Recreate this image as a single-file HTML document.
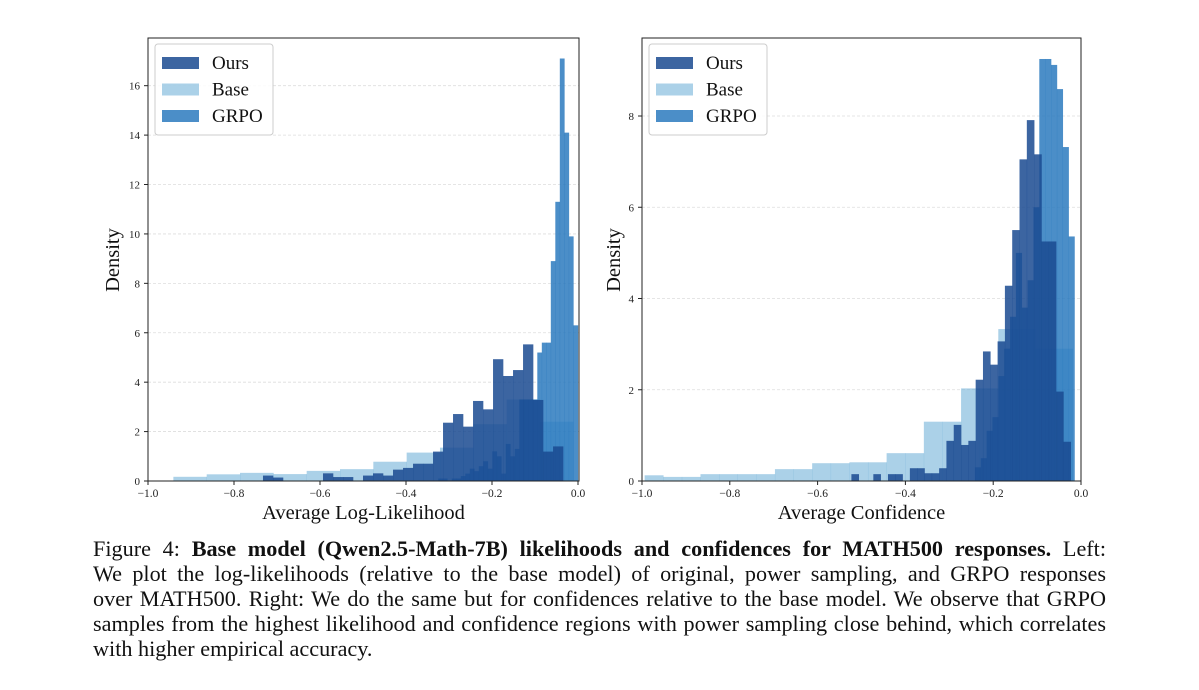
<!DOCTYPE html>
<html><head><meta charset="utf-8">
<style>
body{margin:0;background:#fff;width:1199px;height:690px;overflow:hidden;position:relative;font-family:"Liberation Serif",serif;}
#cap{position:absolute;left:93px;top:536px;width:1013px;font-size:22.2px;line-height:25px;color:#111;}
#cap div{text-align:justify;text-align-last:justify;white-space:nowrap;height:25px}
#cap div.last{text-align-last:left}
svg text{font-family:"Liberation Serif",serif}
</style></head><body>
<svg id="chart" width="1199" height="540" style="position:absolute;left:0;top:0"></svg>
<div id="cap">
<div>Figure 4: <b>Base model (Qwen2.5-Math-7B) likelihoods and confidences for MATH500 responses.</b> Left:</div>
<div>We plot the log-likelihoods (relative to the base model) of original, power sampling, and GRPO responses</div>
<div>over MATH500. Right: We do the same but for confidences relative to the base model. We observe that GRPO</div>
<div>samples from the highest likelihood and confidence regions with power sampling close behind, which correlates</div>
<div class="last">with higher empirical accuracy.</div>
</div>
<script>
// Left panel data (Average Log-Likelihood)
const leftBaseStart = -0.941, leftBaseWidth = 0.0775;
const leftBase = [0.17,0.27,0.33,0.28,0.41,0.48,0.78,1.15,1.35,2.3,3.3,2.4];
const leftOursStart = -0.7326, leftOursWidth = 0.02326;
const leftOurs = [0.22,0.14,0,0,0,0,0.31,0.16,0.16,0,0.22,0.31,0.22,0.46,0.53,0.7,0.7,1.19,2.36,2.71,2.2,3.24,2.9,4.93,4.25,4.49,5.53,3.28,1.19,1.4,0];
const leftGrpoStart = -0.325, leftGrpoWidth = 0.01047;
const leftGrpo = [0.1,0.1,0,0.1,0.1,0.2,0.3,0.5,0.4,0.6,0.8,0.5,1.2,1.0,0.3,1.5,1.0,1.3,3.3,3.3,3.3,3.3,5.2,5.6,5.6,8.9,11.3,17.1,14.1,9.9,6.3];
const leftYTicks = [0,2,4,6,8,10,12,14,16];
// Right panel data (Average Confidence)
const rightBaseStart = -0.994, rightBaseWidth = 0.0424;
const rightBase = [0.125,0.09,0.09,0.15,0.15,0.15,0.15,0.26,0.26,0.39,0.39,0.41,0.41,0.61,0.61,1.3,1.3,2.03,2.03,3.33,3.33,2.9,2.9];
const rightOursStart = -0.523, rightOursWidth = 0.01665;
const rightOurs = [0.15,0,0,0.15,0,0.15,0.15,0,0.28,0.28,0.17,0.17,0.28,0.88,1.23,0.79,0.88,2.22,2.84,2.55,3.06,4.28,5.5,7.05,7.91,7.16,5.25,5.25,1.96,0.86];
const rightGrpoStart = -0.2417, rightGrpoWidth = 0.01334;
const rightGrpo = [0.3,0.5,1.1,1.4,2.3,2.9,3.6,5.0,3.8,4.4,6.0,9.25,9.25,9.12,8.59,7.32,5.36];
const rightYTicks = [0,2,4,6,8];
const xTicks = [-1.0,-0.8,-0.6,-0.4,-0.2,0.0];

const NS="http://www.w3.org/2000/svg";
const svg=document.getElementById('chart');
function mk(tag,attrs,parent){const e=document.createElementNS(NS,tag);for(const k in attrs)e.setAttribute(k,attrs[k]);(parent||svg).appendChild(e);return e;}
const COL={base:['#6baed6',0.57],grpo:['#2878bd',0.84],ours:['#1a4a90',0.85]};

function panel(p){
  const g=mk('g',{});
  
  
  const xs=v=>p.x0+(v-(-1))/(p.xmax+1)*(p.x1-p.x0);
  const ys=v=>p.y0-(v/p.ymax)*(p.y0-p.y1);
  p.yticks.forEach(t=>{
    if(t===0)return;
    const l=mk('line',{x1:p.x0,x2:p.x1,y1:ys(t),y2:ys(t),stroke:'#ddd','stroke-width':0.8,'stroke-dasharray':'3,2'},g);
    
    
  });
  const series=[['base',p.base,p.baseStart,p.baseWidth],['grpo',p.grpo,p.grpoStart,p.grpoWidth],['ours',p.ours,p.oursStart,p.oursWidth]];
  series.forEach(([k,vals,st,w])=>{
    vals.forEach((v,i)=>{
      if(v<=0)return;
      const a=st+i*w;
      const r=mk('rect',{x:xs(a),y:ys(v),width:xs(a+w)-xs(a)+0.3,height:ys(0)-ys(v),fill:COL[k][0],'fill-opacity':COL[k][1]},g);
      
      
    });
  });
  const fr=mk('rect',{x:p.x0,y:p.y1,width:p.x1-p.x0,height:p.y0-p.y1,fill:'none',stroke:'#222','stroke-width':1},g);
  
  
  p.yticks.forEach(t=>{
    mk('line',{x1:p.x0-4,x2:p.x0,y1:ys(t),y2:ys(t),stroke:'#222'},g);
    const tx=mk('text',{x:p.x0-8,y:ys(t)+4,'font-size':11,'text-anchor':'end',fill:'#222'},g);
    tx.textContent=t;
    
    
  });
  xTicks.forEach(t=>{
    mk('line',{x1:xs(t),x2:xs(t),y1:p.y0,y2:p.y0+4,stroke:'#222'},g);
    const tx=mk('text',{x:xs(t),y:p.y0+16,'font-size':11.5,'text-anchor':'middle',fill:'#222'},g);
    tx.textContent=(t<0?'\u2212':'')+Math.abs(t).toFixed(1);
    
    
  });
  const xl=mk('text',{x:(p.x0+p.x1)/2,y:519,'font-size':20.5,'text-anchor':'middle',fill:'#111'},g);
  xl.textContent=p.xlabel;
  
  
  const yl=mk('text',{x:0,y:0,'font-size':20.5,'text-anchor':'middle',fill:'#111',transform:`translate(${p.ylx},260) rotate(-90)`},g);
  yl.textContent='Density';
  
  
  const lg=mk('g',{},g);
  
  
  mk('rect',{x:p.x0+7,y:44,width:118,height:91,rx:3,fill:'#fff','fill-opacity':0.85,stroke:'#ccc'},lg);
  [['Ours','ours'],['Base','base'],['GRPO','grpo']].forEach(([n,k],i)=>{
    const yy=57+i*26.5;
    const sw=mk('rect',{x:p.x0+14,y:yy,width:37,height:12,fill:COL[k][0],'fill-opacity':COL[k][1]},lg);
    
    
    const tx=mk('text',{x:p.x0+64,y:yy+12,'font-size':19,fill:'#111'},lg);
    tx.textContent=n;
    
    
  });
}
panel({name:'left-chart',x0:148,x1:579,y0:481,y1:38,xmax:0.0023,ymax:17.93,yticks:leftYTicks,
  base:leftBase,baseStart:leftBaseStart,baseWidth:leftBaseWidth,ours:leftOurs,oursStart:leftOursStart,oursWidth:leftOursWidth,
  grpo:leftGrpo,grpoStart:leftGrpoStart,grpoWidth:leftGrpoWidth,xlabel:'Average Log-Likelihood',ylx:119});
panel({name:'right-chart',x0:642,x1:1081,y0:481,y1:38,xmax:0,ymax:9.71,yticks:rightYTicks,
  base:rightBase,baseStart:rightBaseStart,baseWidth:rightBaseWidth,ours:rightOurs,oursStart:rightOursStart,oursWidth:rightOursWidth,
  grpo:rightGrpo,grpoStart:rightGrpoStart,grpoWidth:rightGrpoWidth,xlabel:'Average Confidence',ylx:620});
</script>
</body></html>
